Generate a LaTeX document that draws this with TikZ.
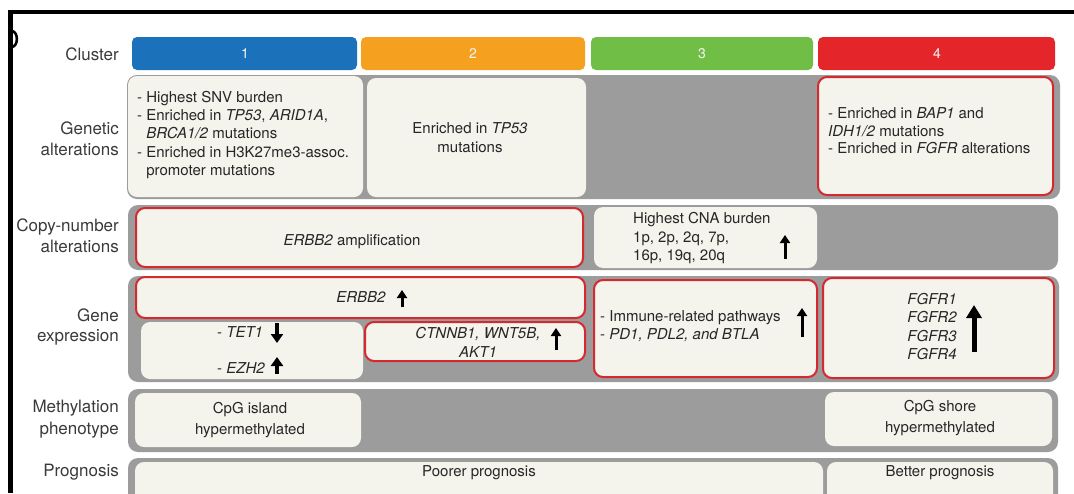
\documentclass[tikz,border=0pt]{standalone}
\usepackage{fontspec}
\setmainfont{TeX Gyre Heros}
\usetikzlibrary{arrows.meta,fit}

\definecolor{bandgray}{HTML}{9C9C9C}
\definecolor{boxfill}{HTML}{F4F3EC}
\definecolor{redline}{HTML}{D42A2F}
\definecolor{cblue}{HTML}{1C72BA}
\definecolor{corange}{HTML}{F5A11F}
\definecolor{cgreen}{HTML}{70BE46}
\definecolor{cred}{HTML}{E4262B}
\definecolor{txt}{HTML}{262626}
\definecolor{lbl}{HTML}{3A3A3A}

\tikzset{
  band/.style={fill=bandgray, rounded corners=10pt},
  cell/.style={fill=boxfill, rounded corners=9pt, inner sep=0pt},
  hot/.style={cell, draw=redline, line width=2pt},
  clusterbar/.style={rounded corners=5pt, inner sep=0pt},
  barnum/.style={text=white!92!gray, font=\fontsize{14}{14}\selectfont, inner sep=0pt},
  rowlabel/.style={anchor=east, align=right, text=lbl, inner sep=0pt,
                   font=\fontsize{17}{21.5}\selectfont},
  body/.style={text=txt, inner sep=0pt, font=\fontsize{15}{18.3}\selectfont},
  uparrow/.style={line width=3pt, -{Triangle[length=8pt,width=10pt]}},
  bigarrow/.style={line width=5pt, -{Triangle[length=13pt,width=15pt]}},
  fatarrow/.style={line width=3.5pt, -{Triangle[length=9pt,width=12pt]}},
}

\begin{document}
\begin{tikzpicture}[x=1pt, y=-1pt]
\useasboundingbox (0,0) rectangle (1074,493);
\fill[white] (0,0) rectangle (1074,493);
\clip (0,0) rectangle (1074,493);

% frame lines and panel letter
\draw[line width=4pt] (8,12) -- (1074,12);
\draw[line width=4.3pt] (10.5,10) -- (10.5,493);
\draw[line width=2.6pt] (12,31) .. controls (18.5,32) and (18.5,46) .. (12,47);

% cluster header bars
\node[clusterbar, fill=cblue,   fit={(132,37)(357,70)}] (h1) {};
\node[clusterbar, fill=corange, fit={(361,37)(585,70)}] (h2) {};
\node[clusterbar, fill=cgreen,  fit={(591,37)(813,70)}] (h3) {};
\node[clusterbar, fill=cred,    fit={(818,37)(1055,70)}] (h4) {};
\node[barnum] at (245,54) {1};
\node[barnum] at (473,54) {2};
\node[barnum] at (702,54) {3};
\node[barnum] at (937,54) {4};

% row labels
\node[rowlabel] (lc) at (119,54)  {Cluster};
\node[rowlabel] (lg) at (119,139) {Genetic\\alterations};
\node[rowlabel] (lk) at (119,236) {Copy-number\\alterations};
\node[rowlabel, font=\fontsize{17}{20.5}\selectfont] (le) at (119,327) {Gene\\expression};
\node[rowlabel] (lm) at (119,419) {Methylation\\phenotype};
\node[rowlabel] (lp) at (119,472) {Prognosis};

% grey row bands
\fill[band] (127,75)  rectangle (1060,199);
\fill[band] (128,205) rectangle (1058,270);
\fill[band] (128,276) rectangle (1059,382);
\fill[band] (128,389) rectangle (1058,452);
\fill[band] (128,458) rectangle (1058,510);

% genetic alterations
\node[cell, fit={(128,76)(363,197)}] (g1) {};
\node[cell, fit={(367,78)(586,197)}] (g2) {};
\node[hot,  fit={(818,77)(1053,195)}] (g4) {};
\node[body, align=left, anchor=west] at (137,135) {%
- Highest SNV burden\\
- Enriched in \textit{TP53}, \textit{ARID1A},\\
\hphantom{- }\textit{BRCA1/2} mutations\\
- Enriched in H3K27me3-assoc.\\
\hphantom{- }promoter mutations};
\node[body, align=center] at (470,137.5) {Enriched in \textit{TP53}\\mutations};
\node[body, align=left, anchor=west, font=\fontsize{15}{17.5}\selectfont] at (828,131) {%
- Enriched in \textit{BAP1} and\\
\textit{IDH1/2} mutations\\
- Enriched in \textit{FGFR} alterations};

% copy-number alterations
\node[hot,  fit={(136,208)(583,267)}] (c1) {};
\node[cell, fit={(594,207)(817,268)}] (c3) {};
\node[body] at (352,242) {\textit{ERBB2} amplification};
\node[body, align=left, anchor=west, font=\fontsize{15}{18.5}\selectfont] at (633,238.5) {%
Highest CNA burden\\
1p, 2p, 2q, 7p,\\
16p, 19q, 20q};
\draw[uparrow] (785,259) -- (785,235);

% gene expression
\node[hot,  fit={(136,277)(585,318)}] (e1) {};
\node[cell, fit={(141,322)(363,379)}] (e2) {};
\node[hot,  fit={(365,322)(585,361)}] (e3) {};
\node[hot,  fit={(594,280)(817,377)}] (e4) {};
\node[hot,  fit={(823,278)(1054,378)}] (e5) {};
\node[body] at (361,297) {\textit{ERBB2}};
\draw[uparrow] (402,307) -- (402,290);
\node[body, anchor=west] at (217,332) {- \textit{TET1}};
\draw[fatarrow] (277,323) -- (277,343);
\node[body, anchor=west] at (217,368) {- \textit{EZH2}};
\draw[fatarrow] (277,374) -- (277,357);
\node[body, align=center, font=\fontsize{15}{19}\selectfont\itshape] at (478,342.5) {CTNNB1, WNT5B,\\AKT1};
\draw[uparrow] (556,350) -- (556,328);
\node[body, align=left, anchor=west] at (600,326) {%
- Immune-related pathways\\
- \textit{PD1, PDL2, and BTLA}};
\draw[uparrow] (802,337) -- (802,308);
\node[body, align=center, font=\fontsize{15}{18.3}\selectfont\itshape] at (932,326.5) {FGFR1\\FGFR2\\FGFR3\\FGFR4};
\draw[bigarrow] (974,352) -- (974,305);

% methylation phenotype
\node[cell, fit={(135,393)(361,447)}] (m1) {};
\node[cell, fit={(825,392)(1052,446)}] (m4) {};
\node[body, align=center, font=\fontsize{15}{21}\selectfont] at (250,420) {CpG island\\hypermethylated};
\node[body, align=center, font=\fontsize{15}{21}\selectfont] at (940,418.5) {CpG shore\\hypermethylated};

% prognosis
\node[cell, fit={(135,462)(823,505)}] (p1) {};
\node[cell, fit={(827,462)(1053,505)}] (p4) {};
\node[body] at (479,473) {Poorer prognosis};
\node[body] at (940,473) {Better prognosis};
\end{tikzpicture}
\end{document}
